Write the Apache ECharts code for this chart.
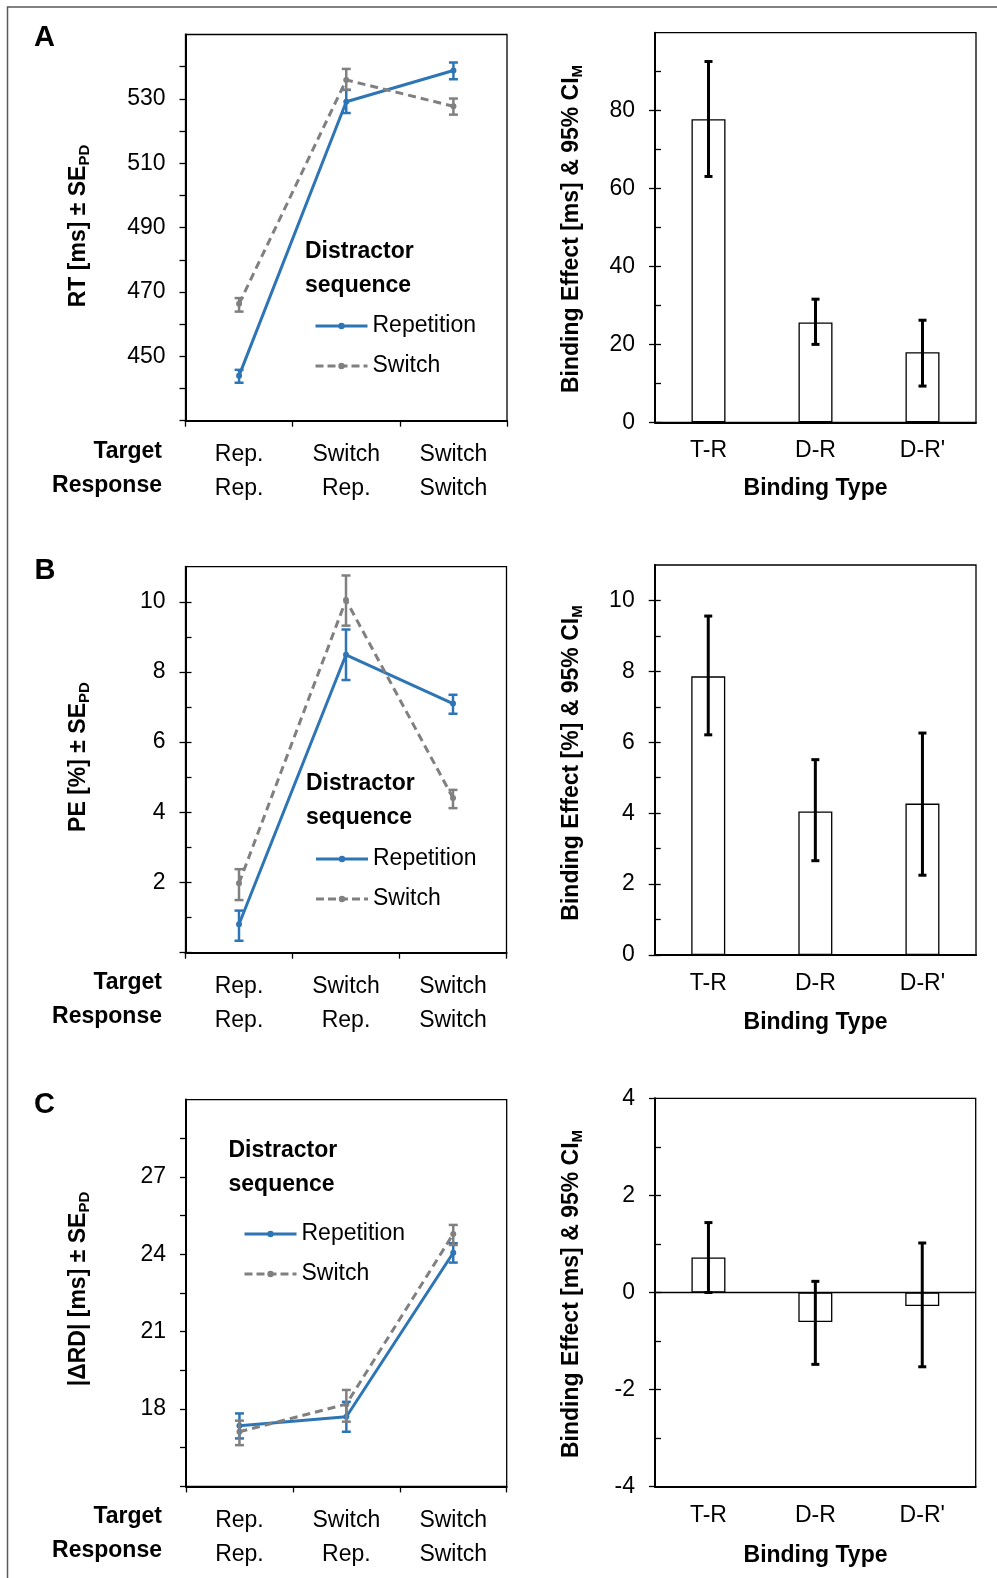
<!DOCTYPE html>
<html>
<head>
<meta charset="utf-8">
<script src="https://cdn.jsdelivr.net/npm/echarts@6/dist/echarts.min.js"></script>
<style>
html,body{margin:0;padding:0;background:#fff;}
#chart{width:997px;height:1578px;}
</style>
</head>
<body>
<div id="chart"></div>
<script>
// ---------------- DATA ----------------
const targetSeq = ['Rep.', 'Switch', 'Switch'];
const responseSeq = ['Rep.', 'Rep.', 'Switch'];
const bindingTypes = ['T-R', 'D-R', "D-R'"];
const seriesNames = ['Repetition', 'Switch'];

// Panel A: RT
const rtRep   = [444.0, 529.1, 538.8];
const rtRepLo = [441.8, 525.6, 536.1];
const rtRepHi = [445.8, 532.8, 541.3];
const rtSw    = [466.3, 535.9, 527.7];
const rtSwLo  = [463.9, 532.8, 525.1];
const rtSwHi  = [468.1, 539.3, 530.1];
const rtBind   = [77.8, 25.6, 18.0];
const rtBindLo = [63.1, 20.0, 9.3];
const rtBindHi = [92.6, 31.6, 26.2];

// Panel B: PE
const peRep   = [0.81, 8.49, 7.10];
const peRepLo = [0.34, 7.77, 6.81];
const peRepHi = [1.20, 9.21, 7.35];
const peSw    = [1.98, 10.05, 4.41];
const peSwLo  = [1.50, 9.32, 4.12];
const peSwHi  = [2.38, 10.75, 4.64];
const peBind   = [7.86, 4.05, 4.27];
const peBindLo = [6.21, 2.66, 2.25];
const peBindHi = [9.56, 5.51, 6.26];

// Panel C: |ΔRD|
const rdRep   = [17.35, 17.70, 24.06];
const rdRepLo = [16.86, 17.12, 23.68];
const rdRepHi = [17.83, 18.28, 24.43];
const rdSw    = [17.12, 18.19, 24.79];
const rdSwLo  = [16.60, 17.51, 24.36];
const rdSwHi  = [17.55, 18.74, 25.14];
const rdBind   = [0.72, -0.61, -0.28];
const rdBindLo = [0.00, -1.48, -1.53];
const rdBindHi = [1.44, 0.23, 1.02];

// Tick values / labels
const rtTickLabels = [450, 470, 490, 510, 530];
const rtTicks = [430, 440, 450, 460, 470, 480, 490, 500, 510, 520, 530, 540];
const peTickLabels = [2, 4, 6, 8, 10];
const peMajorTicks = [0, 2, 4, 6, 8, 10];
const peMinorTicks = [0, 1, 2, 3, 4, 5, 6, 7, 8, 9, 10];
const rdTickLabels = [18, 21, 24, 27];
const rdTicks = [15, 16.5, 18, 19.5, 21, 22.5, 24, 25.5, 27, 28.5];
const rtBindTickLabels = [0, 20, 40, 60, 80];
const rtBindMinorTicks = [0, 10, 20, 30, 40, 50, 60, 70, 80, 90];
const peBindTickLabels = [0, 2, 4, 6, 8, 10];
const peBindMinorTicks = [0, 1, 2, 3, 4, 5, 6, 7, 8, 9, 10];
const rdBindTickLabels = [-4, -2, 0, 2, 4];
const rdBindMinorTicks = [-3, -2, -1, 0, 1, 2, 3];

// ---------------- STYLE ----------------
const FONT = '"Liberation Sans", Arial, Helvetica, sans-serif';
const BLUE = '#2E75B6';
const GRAY = '#808080';
const FS = 23;

const categories = targetSeq.map((t, i) => t + '\n' + responseSeq[i]);

const grids = [
  {left: 185.5, top: 34.5, width: 321.5, height: 386.2},   // A left
  {left: 655, top: 32.7, width: 321, height: 389.6},       // A right
  {left: 185.5, top: 566.7, width: 321, height: 386},      // B left
  {left: 654.7, top: 565, width: 321.3, height: 390},      // B right
  {left: 186, top: 1099.6, width: 320.7, height: 386.8},   // C left
  {left: 655, top: 1098.3, width: 320.7, height: 388.4}    // C right
].map(g => Object.assign({show: true, borderColor: '#000', borderWidth: 1.3,
  containLabel: false, outerBoundsMode: 'none'}, g));

const xAxes = [];
const yAxes = [];
const series = [];

function lineX(gi) {
  return {type: 'category', gridIndex: gi, data: categories, boundaryGap: true,
    axisLine: {show: true, onZero: false, lineStyle: {color: '#000', width: 2}},
    axisTick: {show: true, length: 6, interval: 0, lineStyle: {color: '#000', width: 1.3}},
    axisLabel: {interval: 0, fontSize: FS, color: '#000', fontFamily: FONT, lineHeight: 34, margin: 17},
    splitLine: {show: false}};
}
function barX(gi) {
  return {type: 'category', gridIndex: gi, data: bindingTypes, boundaryGap: true,
    axisLine: {show: true, onZero: false, lineStyle: {color: '#000', width: 2}},
    axisTick: {show: false},
    axisLabel: {interval: 0, fontSize: FS, color: '#000', fontFamily: FONT, margin: 17},
    splitLine: {show: false}};
}
function valY(gi, min, max, labels, ticks) {
  return {type: 'value', gridIndex: gi, min: min, max: max, position: 'left',
    axisLine: {show: true, onZero: false, lineStyle: {color: '#000', width: 2}},
    axisTick: {show: true, length: 6, customValues: ticks, lineStyle: {color: '#000', width: 1.3}},
    axisLabel: {customValues: labels, fontSize: FS, color: '#000', fontFamily: FONT, margin: 20},
    splitLine: {show: false}};
}
function innerY(gi, min, max, ticks) {
  return {type: 'value', gridIndex: gi, min: min, max: max, position: 'left',
    axisLine: {show: false, onZero: false},
    axisTick: {show: true, inside: true, length: 6, customValues: ticks, lineStyle: {color: '#000', width: 1.3}},
    axisLabel: {show: false},
    splitLine: {show: false}};
}

function errSeries(xi, yi, lo, hi, color, width, cap, z) {
  return {type: 'custom', xAxisIndex: xi, yAxisIndex: yi, silent: true, z: z,
    data: lo.map((l, i) => [i, l, hi[i]]),
    encode: {x: 0, y: [1, 2]},
    renderItem: function (params, api) {
      const i = api.value(0);
      const p1 = api.coord([i, api.value(1)]);
      const p2 = api.coord([i, api.value(2)]);
      const st = {stroke: color, lineWidth: width, fill: null};
      return {type: 'group', children: [
        {type: 'line', shape: {x1: p1[0], y1: p1[1], x2: p2[0], y2: p2[1]}, style: st},
        {type: 'line', shape: {x1: p1[0] - cap, y1: p1[1], x2: p1[0] + cap, y2: p1[1]}, style: st},
        {type: 'line', shape: {x1: p2[0] - cap, y1: p2[1], x2: p2[0] + cap, y2: p2[1]}, style: st}
      ]};
    }};
}

function addLinePanel(gi, min, max, labels, ticks, inner, rep, repLo, repHi, sw, swLo, swHi) {
  const xi = xAxes.length; xAxes.push(lineX(gi));
  const yi = yAxes.length; yAxes.push(valY(gi, min, max, labels, ticks));
  if (inner) yAxes.push(innerY(gi, min, max, inner));
  series.push({type: 'line', name: seriesNames[0], xAxisIndex: xi, yAxisIndex: yi, data: rep,
    symbol: 'circle', symbolSize: 6, silent: true, z: 3,
    lineStyle: {color: BLUE, width: 3}, itemStyle: {color: BLUE}});
  series.push({type: 'line', name: seriesNames[1], xAxisIndex: xi, yAxisIndex: yi, data: sw,
    symbol: 'circle', symbolSize: 6, silent: true, z: 3,
    lineStyle: {color: GRAY, width: 3, type: [8, 5]}, itemStyle: {color: GRAY}});
  series.push(errSeries(xi, yi, repLo, repHi, BLUE, 2.5, 4.5, 4));
  series.push(errSeries(xi, yi, swLo, swHi, GRAY, 2.5, 4.5, 4));
}

function addBarPanel(gi, min, max, labels, minor, vals, lo, hi, zeroLine) {
  const xi = xAxes.length; xAxes.push(barX(gi));
  const yi = yAxes.length; yAxes.push(valY(gi, min, max, labels, labels));
  yAxes.push(innerY(gi, min, max, minor));
  const bar = {type: 'bar', xAxisIndex: xi, yAxisIndex: yi, data: vals, barWidth: 34, silent: true,
    itemStyle: {color: '#fff', borderColor: '#000', borderWidth: 1.3}};
  if (zeroLine) {
    bar.markLine = {silent: true, symbol: 'none', label: {show: false},
      lineStyle: {color: '#000', width: 1.3, type: 'solid'}, data: [{yAxis: 0}]};
  }
  series.push(bar);
  series.push(errSeries(xi, yi, lo, hi, '#000', 3, 4, 5));
}

addLinePanel(0, 430, 550, rtTickLabels, rtTicks, null, rtRep, rtRepLo, rtRepHi, rtSw, rtSwLo, rtSwHi);
addBarPanel(1, 0, 100, rtBindTickLabels, rtBindMinorTicks, rtBind, rtBindLo, rtBindHi, false);
addLinePanel(2, 0, 11, peTickLabels, peMajorTicks, peMinorTicks, peRep, peRepLo, peRepHi, peSw, peSwLo, peSwHi);
addBarPanel(3, 0, 11, peBindTickLabels, peBindMinorTicks, peBind, peBindLo, peBindHi, false);
addLinePanel(4, 15, 30, rdTickLabels, rdTicks, null, rdRep, rdRepLo, rdRepHi, rdSw, rdSwLo, rdSwHi);
addBarPanel(5, -4, 4, rdBindTickLabels, rdBindMinorTicks, rdBind, rdBindLo, rdBindHi, true);

function legendAt(left, firstRowY) {
  return {orient: 'vertical', left: left, top: firstRowY - 11.5, padding: 0,
    itemWidth: 52, itemHeight: 8, itemGap: 17, selectedMode: false,
    data: [
      {name: seriesNames[0], lineStyle: {width: 3, color: BLUE, type: 'solid'}},
      {name: seriesNames[1], lineStyle: {width: 3, color: GRAY, type: [8, 4]}}
    ],
    textStyle: {fontSize: FS, color: '#000', fontFamily: FONT}};
}

// ---------------- TEXT ----------------
function txt(x, y, text, opts) {
  return {type: 'text', x: x, y: y, silent: true, style: Object.assign({text: text, fill: '#000',
    fontSize: FS, fontFamily: FONT, align: 'center', verticalAlign: 'middle'}, opts || {})};
}
function vtitle(x, y, main, sub) {
  return {type: 'text', x: x, y: y, rotation: Math.PI / 2, silent: true,
    style: {text: '{m|' + main + '}{s|' + sub + '}', align: 'center', verticalAlign: 'middle',
      rich: {
        m: {fontSize: FS, fontWeight: 'bold', fontFamily: FONT, fill: '#000', lineHeight: 26},
        s: {fontSize: 15, fontWeight: 'bold', fontFamily: FONT, fill: '#000', lineHeight: 26, verticalAlign: 'bottom'}
      }}};
}

const graphics = [
  {type: 'polyline', silent: true, shape: {points: [[7.5, 1578], [7.5, 7], [997, 7]]},
    style: {stroke: '#5a5a5a', lineWidth: 1.5, fill: null}},
  txt(44.5, 38, 'A', {fontSize: 29, fontWeight: 'bold'}),
  txt(45, 571, 'B', {fontSize: 29, fontWeight: 'bold'}),
  txt(44.5, 1105, 'C', {fontSize: 29, fontWeight: 'bold'}),

  vtitle(79, 226, 'RT [ms] ± SE', 'PD'),
  vtitle(79, 757, 'PE [%] ± SE', 'PD'),
  vtitle(79, 1289, '|ΔRD| [ms] ± SE', 'PD'),
  vtitle(572, 229, 'Binding Effect [ms] & 95% CI', 'M'),
  vtitle(572, 763, 'Binding Effect [%] & 95% CI', 'M'),
  vtitle(572, 1294, 'Binding Effect [ms] & 95% CI', 'M'),

  txt(162, 452, 'Target', {fontWeight: 'bold', align: 'right'}),
  txt(162, 486, 'Response', {fontWeight: 'bold', align: 'right'}),
  txt(162, 983, 'Target', {fontWeight: 'bold', align: 'right'}),
  txt(162, 1017, 'Response', {fontWeight: 'bold', align: 'right'}),
  txt(162, 1517, 'Target', {fontWeight: 'bold', align: 'right'}),
  txt(162, 1551, 'Response', {fontWeight: 'bold', align: 'right'}),

  txt(815.5, 489, 'Binding Type', {fontWeight: 'bold'}),
  txt(815.5, 1022.5, 'Binding Type', {fontWeight: 'bold'}),
  txt(815.5, 1556, 'Binding Type', {fontWeight: 'bold'}),

  txt(305, 251.5, 'Distractor', {fontWeight: 'bold', align: 'left'}),
  txt(305, 285.5, 'sequence', {fontWeight: 'bold', align: 'left'}),
  txt(306, 784, 'Distractor', {fontWeight: 'bold', align: 'left'}),
  txt(306, 818, 'sequence', {fontWeight: 'bold', align: 'left'}),
  txt(228.5, 1151, 'Distractor', {fontWeight: 'bold', align: 'left'}),
  txt(228.5, 1184.5, 'sequence', {fontWeight: 'bold', align: 'left'})
];

const option = {
  animation: false,
  backgroundColor: '#fff',
  textStyle: {fontFamily: FONT},
  grid: grids,
  xAxis: xAxes,
  yAxis: yAxes,
  legend: [legendAt(314, 326), legendAt(314.5, 859), legendAt(243, 1234)],
  series: series,
  graphic: graphics
};

const chart = echarts.init(document.getElementById('chart'), null, {renderer: 'canvas'});
chart.setOption(option);
</script>
</body>
</html>
